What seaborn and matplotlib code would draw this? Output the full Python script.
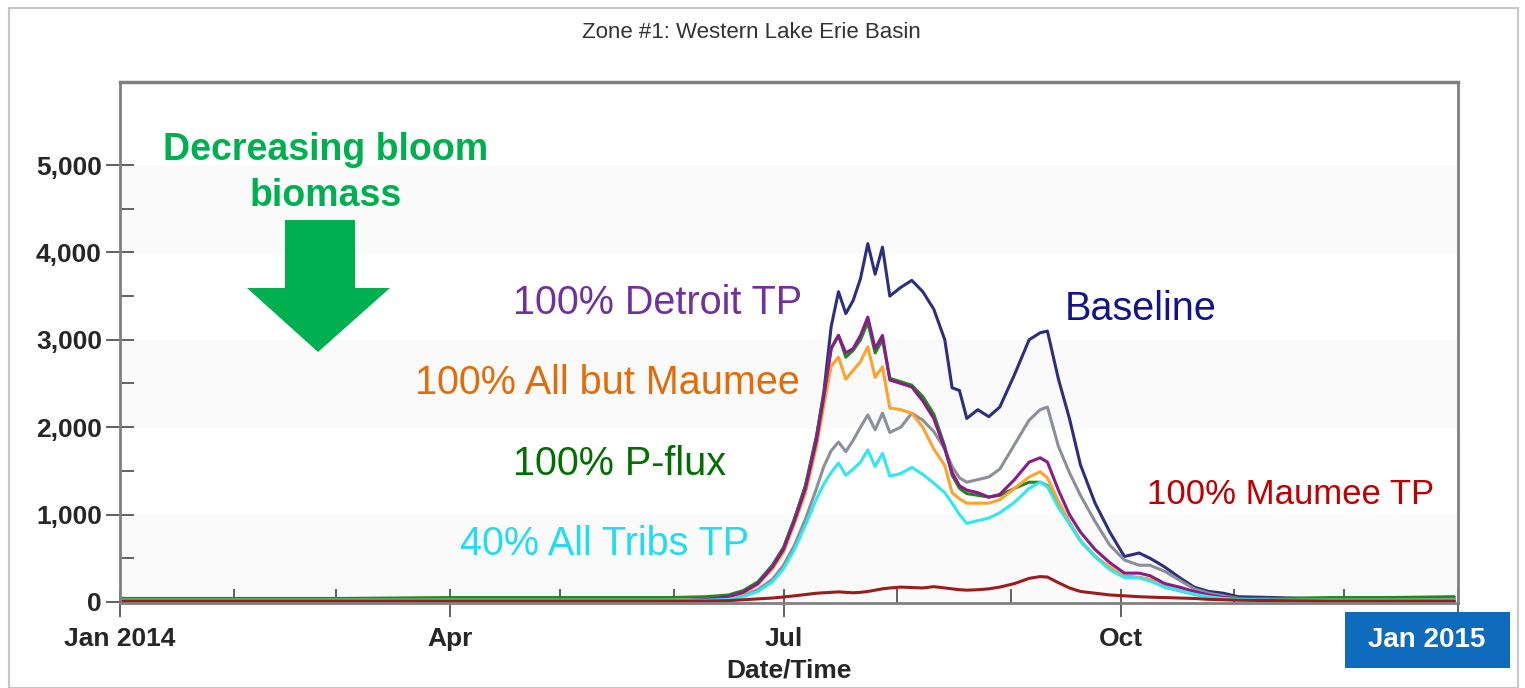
import pandas as pd
import matplotlib.pyplot as plt
import matplotlib.dates as mdates
from matplotlib.patches import Rectangle, Polygon
from matplotlib.ticker import FuncFormatter, FixedLocator
import seaborn as sns

days = [0, 30, 60, 90, 120, 150, 160, 166, 170, 174, 178, 181, 184, 187, 190, 192,
        194, 196, 198, 200, 202, 204, 206, 208, 210, 213, 216, 219, 222, 225, 227,
        229, 231, 234, 237, 240, 244, 248, 251, 253, 256, 259, 262, 266, 270, 274,
        278, 281, 285, 289, 293, 297, 301, 305, 315, 330, 345, 364]

baseline = [40, 30, 30, 30, 30, 30, 40, 60, 110, 220, 420, 620, 950, 1330, 1900, 2400,
            3150, 3550, 3300, 3450, 3700, 4100, 3750, 4060, 3500, 3600, 3680, 3550, 3350, 3000, 2450,
            2420, 2100, 2200, 2120, 2230, 2600, 3000, 3080, 3100, 2550, 2100, 1570, 1130, 800, 520,
            560, 500, 400, 280, 170, 120, 100, 60, 50, 30, 30, 30]

detroit = [10, 10, 10, 10, 10, 10, 30, 60, 110, 210, 400, 600, 930, 1300, 1850, 2350,
           2900, 3050, 2850, 2900, 3050, 3260, 2900, 3050, 2540, 2500, 2460, 2300, 2100, 1750, 1480,
           1330, 1280, 1250, 1200, 1230, 1400, 1600, 1650, 1600, 1280, 1000, 800, 600, 450, 330,
           330, 300, 210, 170, 120, 80, 50, 30, 20, 10, 10, 10]

all_but_maumee = [20, 20, 20, 20, 20, 20, 30, 55, 100, 200, 380, 570, 900, 1250, 1780, 2250,
                  2700, 2800, 2550, 2650, 2750, 2920, 2570, 2690, 2220, 2200, 2160, 2000, 1750, 1560, 1250,
                  1180, 1130, 1130, 1130, 1170, 1300, 1430, 1490, 1420, 1150, 920, 700, 520, 400, 290,
                  280, 260, 180, 140, 100, 60, 40, 30, 20, 20, 20, 20]

p_flux = [40, 40, 40, 50, 50, 50, 60, 80, 130, 230, 420, 620, 950, 1330, 1880, 2380,
          2900, 3050, 2800, 2880, 3000, 3200, 2850, 3000, 2560, 2520, 2480, 2350, 2150, 1780, 1450,
          1300, 1240, 1220, 1200, 1220, 1300, 1370, 1370, 1330, 1100, 900, 700, 520, 380, 290,
          280, 250, 170, 130, 90, 60, 50, 40, 40, 50, 50, 60]

unlabeled = [40, 30, 30, 30, 30, 30, 30, 40, 70, 140, 260, 420, 650, 950, 1300, 1550,
             1730, 1830, 1720, 1850, 2000, 2140, 1970, 2160, 1940, 2000, 2160, 2080, 1950, 1750, 1550,
             1420, 1370, 1400, 1430, 1520, 1800, 2080, 2200, 2230, 1780, 1480, 1220, 920, 650, 480,
             420, 420, 350, 250, 150, 100, 70, 40, 30, 30, 30, 30]

all_tribs_40 = [20, 20, 20, 20, 20, 20, 20, 30, 60, 120, 230, 380, 600, 880, 1180, 1350,
                1480, 1590, 1450, 1520, 1600, 1740, 1550, 1700, 1440, 1470, 1540, 1460, 1360, 1250, 1130,
                1000, 900, 930, 960, 1020, 1140, 1300, 1370, 1320, 1080, 900, 700, 520, 370, 280,
                275, 240, 170, 130, 90, 60, 40, 30, 20, 20, 20, 20]

maumee = [10, 10, 10, 10, 10, 10, 10, 15, 25, 35, 45, 57, 70, 85, 100, 105,
          110, 115, 110, 105, 110, 120, 135, 150, 160, 170, 165, 160, 175, 160, 150,
          140, 135, 140, 150, 170, 210, 270, 290, 285, 220, 160, 120, 100, 80, 70,
          60, 55, 50, 45, 40, 30, 25, 20, 15, 10, 10, 10]

series = {
    'Baseline': baseline,
    'unlabeled': unlabeled,
    '100% P-flux': p_flux,
    '100% All but Maumee': all_but_maumee,
    '100% Detroit TP': detroit,
    '40% All Tribs TP': all_tribs_40,
    '100% Maumee TP': maumee,
}
line_colors = {
    'Baseline': '#2e2e80',
    'unlabeled': '#8c8f99',
    '100% P-flux': '#1e8a1e',
    '100% All but Maumee': '#ffa12b',
    '100% Detroit TP': '#8b1a8b',
    '40% All Tribs TP': '#30e8f0',
    '100% Maumee TP': '#9c1c1c',
}

start = pd.Timestamp('2014-01-01')
dates = start + pd.to_timedelta(days, unit='D')
df = pd.concat([pd.DataFrame({'date': dates, 'value': v, 'scenario': k})
                for k, v in series.items()], ignore_index=True)

sns.set_style('white')
plt.rcParams['font.family'] = ['Liberation Sans', 'DejaVu Sans']

W, H = 1525, 688
fig = plt.figure(figsize=(W / 100, H / 100), dpi=100)


def px(x, y):
    return x / W, 1 - y / H


# outer panel frame
fig.patches.append(Rectangle(px(9, 688), 1509 / W, 680 / H, transform=fig.transFigure,
                             fill=False, edgecolor='#c8c8c8', linewidth=1.5))

ax = fig.add_axes([120 / W, 1 - 603 / H, 1338 / W, 521 / H])

# very faint background bands
for lo in [0, 2000, 4000]:
    ax.axhspan(lo, lo + 1000, color='#fafafa', zorder=0)

sns.lineplot(data=df, x='date', y='value', hue='scenario', palette=line_colors,
             hue_order=list(series.keys()), linewidth=2.2, legend=False, ax=ax)

ax.set_xlim(start, pd.Timestamp('2015-01-01'))
ax.set_ylim(-12, 5950)

major_x = pd.to_datetime(['2014-01-01', '2014-04-01', '2014-07-01', '2014-10-01', '2015-01-01'])
ax.set_xticks(major_x)
ax.set_xticklabels(['Jan 2014', 'Apr', 'Jul', 'Oct', ''])
ax.xaxis.set_minor_locator(mdates.MonthLocator())
ax.set_yticks([0, 1000, 2000, 3000, 4000, 5000])
ax.yaxis.set_minor_locator(FixedLocator([500, 1500, 2500, 3500, 4500]))
ax.yaxis.set_major_formatter(FuncFormatter(lambda v, p: f'{v:,.0f}'))

ax.tick_params(which='both', bottom=True, left=True, top=False, right=False)
ax.tick_params(which='major', direction='inout', length=20, width=1.3, color='#555555',
               labelsize=19, pad=3)
ax.tick_params(axis='x', which='major', pad=7)
ax.tick_params(which='minor', direction='in', length=10, width=1.3, color='#555555')
for lab in ax.get_xticklabels() + ax.get_yticklabels():
    lab.set_fontweight('bold')

ax.set_xlabel('Date/Time', fontsize=19, fontweight='bold', labelpad=6)
ax.set_ylabel('')
for side, sp in ax.spines.items():
    sp.set_color('#808080')
    sp.set_linewidth(2.5 if side == 'top' else 2)

# title
fig.text(*px(751, 32), 'Zone #1: Western Lake Erie Basin', ha='center', va='center',
         fontsize=16, color='#333333', family=['Liberation Sans Narrow', 'Liberation Sans'])

# scenario labels
labels = [
    ('100% Detroit TP', 513, 314, '#7030a0', 28.5),
    ('Baseline', 1065, 320, '#12128c', 28.5),
    ('100% All but Maumee', 415, 394, '#e36c09', 28.5),
    ('100% P-flux', 513, 475, '#006f00', 28.5),
    ('40% All Tribs TP', 460, 555, '#22dcef', 28.5),
    ('100% Maumee TP', 1147, 504, '#c00000', 25),
]
for txt, x, y, c, fs in labels:
    fig.text(*px(x, y), txt, ha='left', va='baseline', color=c, fontsize=fs)

# decreasing bloom annotation
fig.text(*px(326, 160), 'Decreasing bloom', ha='center', va='baseline', color='#00b050',
         fontsize=27, fontweight='bold')
fig.text(*px(326, 206), 'biomass', ha='center', va='baseline', color='#00b050',
         fontsize=27, fontweight='bold')
arrow_pts = [px(285, 220), px(355, 220), px(355, 288), px(390, 288), px(318, 352),
             px(247, 288), px(285, 288)]
fig.patches.append(Polygon(arrow_pts, closed=True, transform=fig.transFigure,
                           facecolor='#00b050', edgecolor='none'))

# Jan 2015 box
fig.patches.append(Rectangle(px(1345, 668), 165 / W, 56 / H, transform=fig.transFigure,
                             facecolor='#0f6cbd', edgecolor='none'))
fig.text(*px(1427, 640), 'Jan 2015', ha='center', va='center', color='white',
         fontsize=20, fontweight='bold')

fig.savefig('out.png', dpi=100)
